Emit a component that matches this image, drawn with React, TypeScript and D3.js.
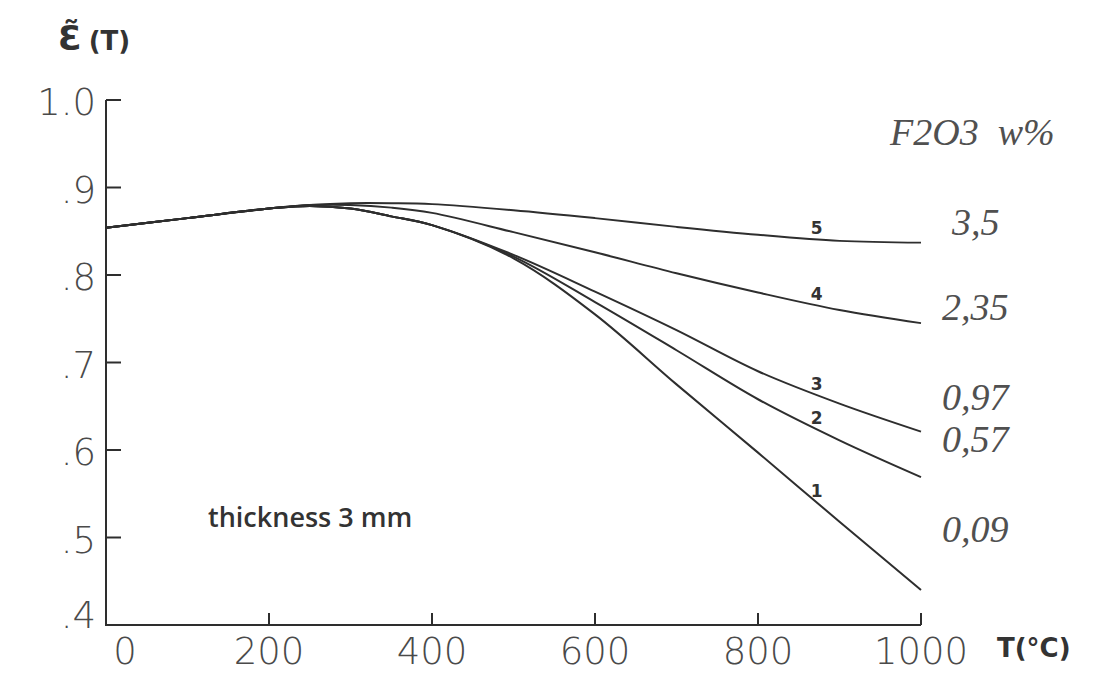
import * as d3 from 'd3'

// temperature grid (°C) and emissivity
const temps = [0, 100, 200, 250, 300, 350, 400, 500, 600, 700, 800, 900, 1000]
const curve1 = [0.854, 0.865, 0.876, 0.879, 0.876, 0.867, 0.857, 0.819, 0.755, 0.675, 0.597, 0.518, 0.44]
const curve2 = [0.854, 0.865, 0.876, 0.879, 0.876, 0.867, 0.857, 0.821, 0.769, 0.714, 0.658, 0.611, 0.569]
const curve3 = [0.854, 0.865, 0.876, 0.879, 0.876, 0.867, 0.857, 0.823, 0.781, 0.737, 0.69, 0.653, 0.621]
const curve4 = [0.854, 0.865, 0.876, 0.88, 0.88, 0.877, 0.871, 0.849, 0.826, 0.802, 0.78, 0.76, 0.745]
const curve5 = [0.854, 0.865, 0.876, 0.88, 0.882, 0.882, 0.881, 0.874, 0.865, 0.855, 0.846, 0.839, 0.837]

const curveIds = ['1', '2', '3', '4', '5']
const concentrations = ['0,09', '0,57', '0,97', '2,35', '3,5']
const xTicks = [0, 200, 400, 600, 800, 1000]
const yTicks = [0.4, 0.5, 0.6, 0.7, 0.8, 0.9, 1.0]
const yTickLabels = ['.4', '.5', '.6', '.7', '.8', '.9', '1.0']
const idLabelTemp = 872

const series = [curve1, curve2, curve3, curve4, curve5]

// where the hand-written concentration notes sit (pixel baselines)
const noteLayout = [
  { x: 942, y: 542 },
  { x: 942, y: 452 },
  { x: 942, y: 410 },
  { x: 942, y: 320 },
  { x: 952, y: 235 },
]

const W = 1099
const H = 674
const left = 106
const right = 921
const top = 100
const bottom = 625

export default function App() {
  const x = d3.scaleLinear().domain([0, 1000]).range([left, right])
  const y = d3.scaleLinear().domain([0.4, 1.0]).range([bottom, top])

  const line = d3
    .line<number>()
    .x((_, i) => x(temps[i]))
    .y(d => y(d))
    .curve(d3.curveCatmullRom.alpha(0.5))

  const valueAt = (vals: number[], t: number) => {
    const i = d3.bisectRight(temps, t) - 1
    const k = (t - temps[i]) / (temps[i + 1] - temps[i])
    return vals[i] + k * (vals[i + 1] - vals[i])
  }

  const ink = '#2e2e2e'
  const tickFont = { fontFamily: 'DejaVu Sans', fontWeight: 200, fontSize: 37, fill: '#4a4a4a' }
  const noteFont = { fontFamily: 'Liberation Serif', fontStyle: 'italic', fontSize: 38, fill: '#505050' }

  return (
    <div>
      <style>{'body{margin:0;background:#fff}'}</style>
      <svg width={W} height={H} style={{ display: 'block', background: '#fff' }}>
        {/* axes */}
        <path
          d={`M${left},${top}V${bottom}H${right}`}
          fill="none"
          stroke={ink}
          strokeWidth={2}
        />
        {yTicks.slice(1).map(t => (
          <line key={t} x1={left} x2={left + 15} y1={y(t)} y2={y(t)} stroke={ink} strokeWidth={2} />
        ))}
        {xTicks.slice(1).map(t => (
          <line key={t} x1={x(t)} x2={x(t)} y1={bottom} y2={bottom - 12} stroke={ink} strokeWidth={2} />
        ))}

        {yTicks.map((t, i) => (
          <text
            key={t}
            x={left - 10}
            y={y(t) + 15 + (i === 0 ? -12 : 0)}
            textAnchor="end"
            {...tickFont}
          >
            {yTickLabels[i]}
          </text>
        ))}
        {xTicks.map(t => (
          <text key={t} x={x(t) + (t === 0 ? 19 : 0)} y={664} textAnchor="middle" {...tickFont}>
            {t}
          </text>
        ))}

        {/* axis titles */}
        <text x={58} y={50} fontFamily="DejaVu Sans" fontWeight="bold" fill="#333">
          <tspan fontSize={34}>{'\u0190\u0303'}</tspan>
          <tspan dx={7} fontSize={26}>(T)</tspan>
        </text>
        <text x={997} y={657} fontFamily="DejaVu Sans" fontWeight="bold" fontSize={26} fill="#333">
          T(°C)
        </text>

        {/* curves */}
        {series.map((vals, i) => (
          <path key={i} d={line(vals) ?? ''} fill="none" stroke={ink} strokeWidth={2} />
        ))}
        {series.map((vals, i) => (
          <text
            key={i}
            x={x(idLabelTemp)}
            y={y(valueAt(vals, idLabelTemp)) - 5}
            textAnchor="middle"
            fontFamily="DejaVu Sans"
            fontWeight="bold"
            fontSize={17}
            fill="#333"
          >
            {curveIds[i]}
          </text>
        ))}

        {/* concentration notes */}
        <text x={890} y={145} style={{ whiteSpace: 'pre' }} {...noteFont}>
          {'F2O3  w%'}
        </text>
        {concentrations.map((c, i) => (
          <text key={c} x={noteLayout[i].x} y={noteLayout[i].y} {...noteFont}>
            {c}
          </text>
        ))}

        <text x={208} y={527} fontFamily="Open Sans" fontWeight={600} fontSize={27} fill="#333">
          thickness 3 mm
        </text>
      </svg>
    </div>
  )
}
